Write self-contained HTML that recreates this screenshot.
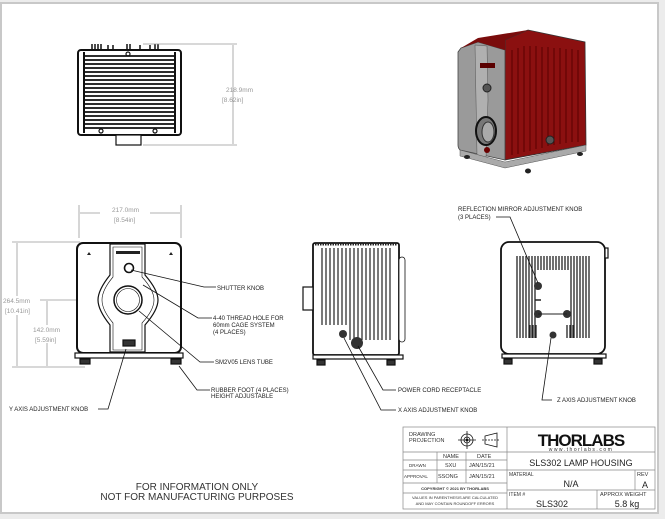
<!DOCTYPE html>
<html><head><meta charset="utf-8"><style>
html,body{margin:0;padding:0;background:#fff}
svg{display:block}
text{font-family:"Liberation Sans",sans-serif}
</style></head><body>
<svg width="665" height="519" viewBox="0 0 665 519" xmlns="http://www.w3.org/2000/svg">
<rect width="665" height="519" fill="#ececec"/>
<rect x="1" y="3" width="657" height="510" fill="#fff" stroke="#c8c8c8" stroke-width="2"/>

<!-- TOP VIEW -->
<g stroke="#111" fill="none" stroke-width="1.2">
<rect x="78" y="50" width="103" height="85" rx="3" fill="#fff" stroke-width="2"/>
<g stroke-width="1.8">
<line x1="84" y1="56" x2="175" y2="56"/><line x1="84" y1="60" x2="175" y2="60"/><line x1="84" y1="64" x2="175" y2="64"/><line x1="84" y1="68" x2="175" y2="68"/><line x1="84" y1="72" x2="175" y2="72"/><line x1="84" y1="76" x2="175" y2="76"/><line x1="84" y1="80" x2="175" y2="80"/><line x1="84" y1="84" x2="175" y2="84"/><line x1="84" y1="88" x2="175" y2="88"/><line x1="84" y1="92" x2="175" y2="92"/><line x1="84" y1="96" x2="175" y2="96"/><line x1="84" y1="100" x2="175" y2="100"/><line x1="84" y1="104" x2="175" y2="104"/><line x1="84" y1="108" x2="175" y2="108"/><line x1="84" y1="112" x2="175" y2="112"/><line x1="84" y1="116" x2="175" y2="116"/><line x1="84" y1="120" x2="175" y2="120"/><line x1="84" y1="124" x2="175" y2="124"/><line x1="84" y1="128" x2="175" y2="128"/>
</g>
<line x1="84" y1="52" x2="84" y2="133" stroke-width="2"/><line x1="175" y1="52" x2="175" y2="133" stroke-width="2"/>
<path d="M92 50V44M95 50V44M98 50V44M101 50V44M108 50V45M113 50V45M127 50V44M130 50V44M140 50V45M150 50V45M155 50V44M158 50V44" stroke-width="1.5"/>
<rect x="116" y="135" width="25" height="10" fill="#fff"/>
<circle cx="128" cy="54" r="2"/><circle cx="101" cy="131" r="2"/><circle cx="155" cy="131" r="2"/>
</g>
<g stroke="#999" stroke-width="0.8">
<line x1="143" y1="44" x2="237" y2="44"/><line x1="143" y1="145" x2="237" y2="145"/>
<line x1="233" y1="45" x2="233" y2="144"/>
</g>
<text x="226" y="92" font-size="6.5" fill="#999">218.9mm</text>
<text x="222" y="102" font-size="6.5" fill="#999">[8.62in]</text>

<!-- 3D VIEW -->
<path d="M505 40 L528 30 L585 42 L586 145 L505 160 Z" fill="#8b1010" stroke="#333" stroke-width="0.8"/>
<g stroke="#5a0000" stroke-width="1">
<line x1="512" y1="50" x2="512" y2="155"/><line x1="518" y1="48" x2="518" y2="154"/><line x1="524" y1="46" x2="524" y2="152"/><line x1="530" y1="46" x2="530" y2="151"/><line x1="536" y1="46" x2="536" y2="149"/><line x1="542" y1="47" x2="542" y2="148"/><line x1="548" y1="47" x2="548" y2="146"/><line x1="554" y1="48" x2="554" y2="145"/><line x1="560" y1="48" x2="560" y2="144"/><line x1="566" y1="49" x2="566" y2="143"/><line x1="572" y1="49" x2="572" y2="142"/><line x1="578" y1="50" x2="578" y2="142"/>
</g>
<path d="M461 48 L478 42 L505 50 L505 160 L460 150 Q458 148 458 145 L458 52 Z" fill="#9a9a9a" stroke="#444" stroke-width="0.8"/>
<path d="M475 45 L487 46 L488 100 L486 158 L477 155 L476 100 Z" fill="#b0b0b0" stroke="#555" stroke-width="0.5"/>
<path d="M461 48 L478 38 L528 30 L505 40 L505 50 L478 42 Z" fill="#7a0c0c"/>
<rect x="480" y="63" width="15" height="5" fill="#5a0000"/>
<circle cx="487" cy="88" r="4" fill="#555" stroke="#222"/>
<ellipse cx="486" cy="131" rx="10" ry="14" fill="#777" stroke="#111" stroke-width="2"/>
<ellipse cx="488" cy="132" rx="6" ry="10" fill="#aaa" stroke="#333"/>
<circle cx="487" cy="150" r="3" fill="#6b0000"/>
<path d="M460 150 L505 162 L586 145 L586 151 L505 168 L460 156 Z" fill="#aaa" stroke="#555" stroke-width="0.5"/>
<ellipse cx="467" cy="157" rx="3" ry="2" fill="#222"/><ellipse cx="528" cy="171" rx="3" ry="2.5" fill="#222"/><ellipse cx="580" cy="154" rx="3" ry="2" fill="#222"/>
<circle cx="550" cy="140" r="4" fill="#555" stroke="#222"/>

<!-- FRONT VIEW -->
<g stroke="#999" stroke-width="0.8" fill="none">
<line x1="79" y1="205" x2="79" y2="238"/><line x1="181" y1="205" x2="181" y2="238"/>
<line x1="80" y1="213" x2="100" y2="213"/><line x1="150" y1="213" x2="180" y2="213"/>
<line x1="12" y1="242" x2="80" y2="242"/><line x1="12" y1="367" x2="85" y2="367"/>
<line x1="17" y1="243" x2="17" y2="296"/><line x1="17" y1="315" x2="17" y2="366"/>
<line x1="40" y1="300" x2="112" y2="300"/>
<line x1="47" y1="301" x2="47" y2="325"/><line x1="47" y1="343" x2="47" y2="366"/>
</g>
<text x="112" y="212" font-size="6.5" fill="#999">217.0mm</text>
<text x="114" y="222" font-size="6.5" fill="#999">[8.54in]</text>
<text x="3" y="303" font-size="6.5" fill="#999">264.5mm</text>
<text x="5" y="313" font-size="6.5" fill="#999">[10.41in]</text>
<text x="33" y="332" font-size="6.5" fill="#999">142.0mm</text>
<text x="35" y="342" font-size="6.5" fill="#999">[5.59in]</text>

<g stroke="#111" fill="#fff" stroke-width="1.2">
<rect x="77" y="243" width="104" height="110" rx="6" stroke-width="2"/>
<path d="M110 244 L145 244 L145 275 Q158 290 158 300 Q158 310 145 325 L145 352 L110 352 L110 325 Q98 310 98 300 Q98 290 110 275 Z"/>
<path d="M113 247 L142 247 L142 277 Q154 290 154 300 Q154 310 142 323 L142 350 L113 350 L113 323 Q102 310 102 300 Q102 290 113 277 Z" fill="none" stroke-width="0.6"/>
<circle cx="128" cy="300" r="14" stroke-width="1.5"/>
<circle cx="128" cy="300" r="11.5" stroke-width="0.6"/>
<circle cx="129" cy="268" r="4.5" stroke-width="1.6"/>
<rect x="75" y="353" width="108" height="5"/>
<rect x="80" y="359" width="10" height="5" fill="#333"/><rect x="171" y="359" width="10" height="5" fill="#333"/>
<rect x="123" y="340" width="12" height="6" fill="#333"/>
</g>
<rect x="116" y="251" width="24" height="3" fill="#222"/>
<path d="M87 255 l2 -3 l2 3z M169 255 l2 -3 l2 3z" fill="#222"/>

<g stroke="#111" stroke-width="0.8" fill="none">
<path d="M131 270 L204 287 L216 287"/>
<path d="M143 285 L198 318 L212 318"/>
<path d="M139 311 L200 362 L214 362"/>
<path d="M179 366 L197 390 L210 390"/>
<path d="M126 349 L108 409 L98 409"/>
</g>
<g font-size="6" fill="#222">
<text x="217" y="290">SHUTTER KNOB</text>
<text x="213" y="320">4-40 THREAD HOLE FOR</text>
<text x="213" y="327">60mm CAGE SYSTEM</text>
<text x="213" y="334">(4 PLACES)</text>
<text x="215" y="364">SM2V05 LENS TUBE</text>
<text x="211" y="392">RUBBER FOOT (4 PLACES)</text>
<text x="211" y="398">HEIGHT ADJUSTABLE</text>
<text x="9" y="411">Y AXIS ADJUSTMENT KNOB</text>
</g>

<!-- SIDE VIEW -->
<g stroke="#111" fill="#fff" stroke-width="1.2">
<rect x="313" y="243" width="86" height="112" rx="2" stroke-width="1.8"/>
<rect x="303" y="287" width="10" height="23" fill="#fff"/>
<rect x="399" y="257" width="6" height="85" rx="3" fill="#fff" stroke-width="0.8"/>
<rect x="313" y="355" width="90" height="4"/>
<rect x="317" y="360" width="8" height="5" fill="#333"/><rect x="387" y="360" width="8" height="5" fill="#333"/>
</g>
<g stroke="#222" stroke-width="1.2">
<path d="M322 248V325M326 248V325M330 248V325M334 248V325M338 248V325M342 248V325M346 248V325M350 248V340M354 248V340M358 248V340M362 248V340M366 248V340M370 248V340M374 248V340M378 248V340M382 248V340M386 248V340M390 248V340"/>
<path d="M315 244H397" stroke-width="3" stroke-dasharray="1.5 1"/>
</g>
<circle cx="343" cy="334" r="4" fill="#333"/><circle cx="357" cy="343" r="6" fill="#333"/>
<g stroke="#111" stroke-width="0.8" fill="none">
<path d="M358 346 L383 390 L396 390"/>
<path d="M344 338 L381 410 L396 410"/>
</g>
<g font-size="6" fill="#222">
<text x="398" y="392">POWER CORD RECEPTACLE</text>
<text x="398" y="412">X AXIS ADJUSTMENT KNOB</text>
</g>

<!-- BACK VIEW -->
<g stroke="#111" fill="#fff" stroke-width="1.2">
<rect x="501" y="242" width="104" height="112" rx="8" stroke-width="1.8"/>
<rect x="605" y="248" width="3" height="10" fill="#fff"/>
<rect x="502" y="354" width="104" height="4"/>
<rect x="504" y="359" width="8" height="5" fill="#333"/><rect x="594" y="359" width="8" height="5" fill="#333"/>
</g>
<g stroke="#222" stroke-width="1.3">
<path d="M517 256V338M520 256V338M523 256V338M526 256V338M529 256V338M532 256V338M535 256V338M538 256V270M541 256V270M544 256V270M547 256V270M550 256V270M553 256V270M556 256V270M559 256V270M562 256V270M565 256V270M568 256V270M571 256V338M574 256V338M577 256V338M580 256V338M583 256V338M586 256V338M589 256V338"/>
<path d="M530 325V338M533 325V338M536 325V338M567 325V338M570 325V338M573 325V338"/>
</g>
<circle cx="538" cy="286" r="4" fill="#333"/><circle cx="538" cy="314" r="4" fill="#333"/><circle cx="567" cy="314" r="4" fill="#333"/>
<line x1="538" y1="314" x2="567" y2="314" stroke="#222"/><line x1="535" y1="300" x2="541" y2="300" stroke="#222" stroke-width="1.5"/>
<circle cx="553" cy="335" r="3.5" fill="#333"/>
<g stroke="#111" stroke-width="0.8" fill="none">
<path d="M496 217 L510 217 L538 283"/>
<path d="M551 338 L542 400 L552 400"/>
</g>
<g font-size="6" fill="#222">
<text x="458" y="211">REFLECTION MIRROR ADJUSTMENT KNOB</text>
<text x="458" y="219">(3 PLACES)</text>
<text x="557" y="402">Z AXIS ADJUSTMENT KNOB</text>
</g>

<text x="197" y="490" font-size="10" fill="#333" text-anchor="middle">FOR INFORMATION ONLY</text>
<text x="197" y="500" font-size="10" fill="#333" text-anchor="middle">NOT FOR MANUFACTURING PURPOSES</text>

<!-- TITLE BLOCK -->
<g stroke="#888" stroke-width="0.7" fill="none">
<rect x="403" y="427" width="252" height="82" fill="#fff"/>
<line x1="507" y1="427" x2="507" y2="509"/>
<line x1="403" y1="452" x2="655" y2="452"/>
<line x1="403" y1="460" x2="507" y2="460"/>
<line x1="403" y1="470" x2="655" y2="470"/>
<line x1="403" y1="483" x2="507" y2="483"/>
<line x1="507" y1="490" x2="655" y2="490"/>
<line x1="403" y1="493" x2="507" y2="493"/>
<line x1="437" y1="452" x2="437" y2="483"/>
<line x1="466" y1="452" x2="466" y2="483"/>
<line x1="635" y1="470" x2="635" y2="490"/>
<line x1="597" y1="490" x2="597" y2="509"/>
</g>
<g font-size="5.5" fill="#333">
<text x="409" y="436">DRAWING</text><text x="409" y="442">PROJECTION</text>
<text x="443" y="458">NAME</text><text x="477" y="458">DATE</text>
<text x="409" y="467" font-size="4.5">DRAWN</text><text x="445" y="467">SXU</text><text x="469" y="467">JAN/15/21</text>
<text x="404" y="478" font-size="4.5">APPROVAL</text><text x="438" y="478">SSONG</text><text x="469" y="478">JAN/15/21</text>
<text x="455" y="490" font-size="4" text-anchor="middle" font-weight="bold">COPYRIGHT © 2021 BY THORLABS</text>
<text x="455" y="499" font-size="4" text-anchor="middle">VALUES IN PARENTHESIS ARE CALCULATED</text>
<text x="455" y="505" font-size="4" text-anchor="middle">AND MAY CONTAIN ROUNDOFF ERRORS</text>
<text x="509" y="476" font-size="5">MATERIAL</text>
<text x="637" y="476" font-size="5.5">REV</text>
<text x="509" y="496" font-size="5">ITEM #</text>
<text x="600" y="496" font-size="5.5">APPROX WEIGHT</text>
</g>
<g stroke="#111" fill="none" stroke-width="0.8">
<circle cx="467" cy="440" r="6"/><circle cx="467" cy="440" r="3"/><circle cx="467" cy="440" r="1" fill="#111"/>
<line x1="458" y1="440" x2="476" y2="440"/><line x1="467" y1="431" x2="467" y2="449"/>
<path d="M485 436 L497 433 L497 447 L485 444 Z"/><line x1="482" y1="440" x2="499" y2="440" stroke-dasharray="2 1"/>
</g>
<text x="581" y="446" font-size="17" font-weight="bold" fill="#111" text-anchor="middle" letter-spacing="-1">THORLABS</text>
<text x="581" y="451" font-size="5" fill="#333" text-anchor="middle" letter-spacing="1.5">www.thorlabs.com</text>
<text x="581" y="466" font-size="9" fill="#222" text-anchor="middle">SLS302 LAMP HOUSING</text>
<text x="571" y="487" font-size="9" fill="#222" text-anchor="middle">N/A</text>
<text x="645" y="488" font-size="9" fill="#222" text-anchor="middle">A</text>
<text x="552" y="507" font-size="9" fill="#222" text-anchor="middle">SLS302</text>
<text x="627" y="507" font-size="9" fill="#222" text-anchor="middle">5.8 kg</text>
</svg>
</body></html>
